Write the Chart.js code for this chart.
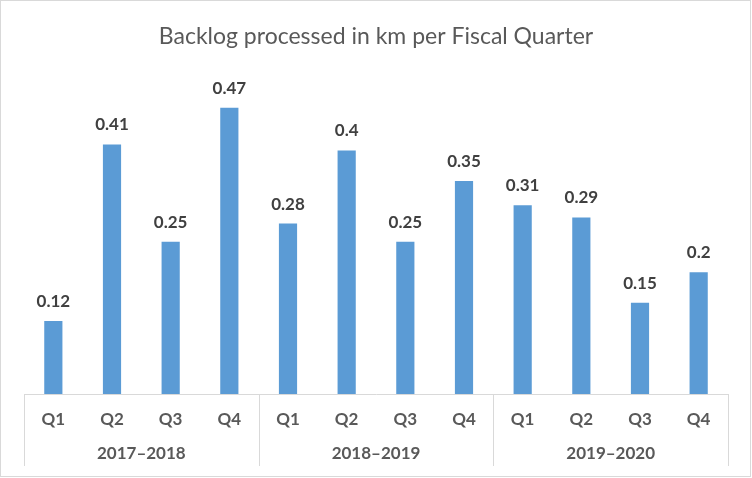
<!DOCTYPE html>
<html>
<head>
<meta charset="utf-8">
<script src="https://cdn.jsdelivr.net/npm/chart.js@4.4.1/dist/chart.umd.min.js"></script>
<style>
  html, body { margin: 0; padding: 0; background: #fff; }
  #wrap { width: 752px; height: 478px; position: relative; }
</style>
</head>
<body>
<div id="wrap"><canvas id="c"></canvas></div>
<script>
const quarters = ['Q1','Q2','Q3','Q4','Q1','Q2','Q3','Q4','Q1','Q2','Q3','Q4'];
const fiscalYears = ['2017–2018','2018–2019','2019–2020'];
const quartersPerYear = 4;
const backlogKm = [0.12, 0.41, 0.25, 0.47, 0.28, 0.4, 0.25, 0.35, 0.31, 0.29, 0.15, 0.2];
const chartTitle = 'Backlog processed in km per Fiscal Quarter';

const FONT = 'Lato, "Open Sans", sans-serif';

const frame = {
  id: 'frame',
  beforeDraw(chart) {
    const ctx = chart.ctx;
    ctx.save();
    ctx.fillStyle = '#fff';
    ctx.fillRect(0, 0, chart.width, chart.height);
    ctx.strokeStyle = '#D9D9D9';
    ctx.lineWidth = 1;
    ctx.strokeRect(0.5, 0.5, 750, 476);
    ctx.restore();
  }
};

const valueLabels = {
  id: 'valueLabels',
  afterDatasetsDraw(chart) {
    const ctx = chart.ctx;
    const meta = chart.getDatasetMeta(0);
    ctx.save();
    ctx.font = 'bold 17px ' + FONT;
    ctx.fillStyle = '#404040';
    ctx.textAlign = 'center';
    ctx.textBaseline = 'alphabetic';
    meta.data.forEach((bar, i) => {
      ctx.fillText(String(backlogKm[i]), bar.x, bar.y - 14);
    });
    ctx.restore();
  }
};

const groupAxis = {
  id: 'groupAxis',
  afterDraw(chart) {
    const ctx = chart.ctx;
    const xs = chart.scales.x;
    const top = xs.top;
    ctx.save();
    ctx.strokeStyle = '#D9D9D9';
    ctx.lineWidth = 1;
    for (let g = 0; g <= fiscalYears.length; g++) {
      const x = Math.round(xs.getPixelForValue(g * quartersPerYear - 0.5)) + 0.5;
      ctx.beginPath();
      ctx.moveTo(x, top);
      ctx.lineTo(x, top + 72);
      ctx.stroke();
    }
    ctx.font = 'bold 17px ' + FONT;
    ctx.fillStyle = '#595959';
    ctx.textAlign = 'center';
    ctx.textBaseline = 'middle';
    fiscalYears.forEach((fy, g) => {
      const x0 = xs.getPixelForValue(g * quartersPerYear - 0.5);
      const x1 = xs.getPixelForValue((g + 1) * quartersPerYear - 0.5);
      ctx.fillText(fy, (x0 + x1) / 2, top + 60);
    });
    ctx.restore();
  }
};

new Chart(document.getElementById('c'), {
  type: 'bar',
  data: {
    labels: quarters,
    datasets: [{
      data: backlogKm,
      backgroundColor: '#5B9BD5',
      borderWidth: 0,
      categoryPercentage: 1,
      barPercentage: 0.31
    }]
  },
  options: {
    responsive: true,
    maintainAspectRatio: false,
    animation: false,
    layout: { padding: { left: 24, right: 24, top: 0, bottom: 2 } },
    plugins: {
      legend: { display: false },
      tooltip: { enabled: false },
      title: {
        display: true,
        text: chartTitle,
        color: '#595959',
        font: { family: FONT, size: 23, weight: 'normal' },
        padding: { top: 23, bottom: 39 }
      }
    },
    scales: {
      y: { display: false, min: 0, max: 0.5 },
      x: {
        grid: { display: false, drawTicks: false },
        border: { display: true, color: '#D9D9D9', width: 1 },
        ticks: {
          color: '#595959',
          font: { family: FONT, size: 17, weight: 'bold' },
          padding: 15,
          maxRotation: 0,
          autoSkip: false
        },
        afterFit(scale) { scale.height = 82; }
      }
    }
  },
  plugins: [frame, valueLabels, groupAxis]
});
</script>
</body>
</html>
